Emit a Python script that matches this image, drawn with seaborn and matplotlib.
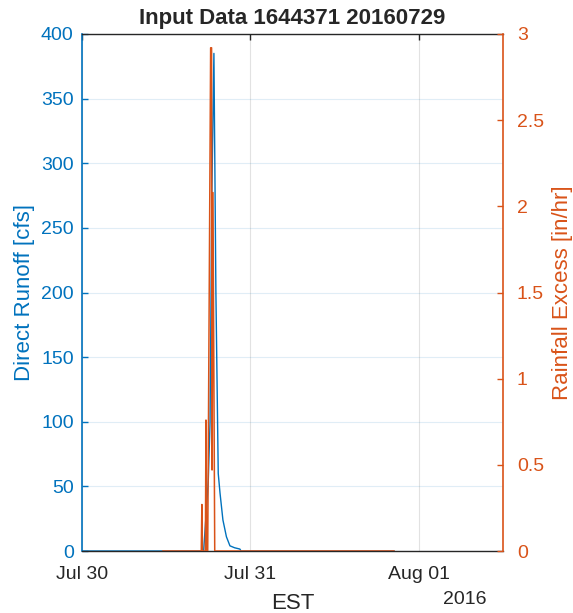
import matplotlib
matplotlib.use("Agg")
import matplotlib.pyplot as plt
import matplotlib.dates as mdates
import seaborn as sns
import pandas as pd

# direct runoff hydrograph (cfs)
runoff_times = ["2016-07-30 00:00", "2016-07-30 17:20", "2016-07-30 17:50", "2016-07-30 18:00",
                "2016-07-30 18:15", "2016-07-30 18:30", "2016-07-30 18:48", "2016-07-30 19:05",
                "2016-07-30 19:25", "2016-07-30 19:40", "2016-07-30 20:05", "2016-07-30 20:35",
                "2016-07-30 21:05", "2016-07-30 21:45", "2016-07-30 22:30", "2016-07-30 22:40",
                "2016-07-31 20:30"]
runoff_cfs = [0, 0, 40, 55, 100, 275, 385, 200, 60, 45, 24, 11, 4, 2.5, 1.5, 0, 0]

# rainfall excess (in/hr)
rain_times = ["2016-07-30 11:30", "2016-07-30 17:00", "2016-07-30 17:05", "2016-07-30 17:10",
              "2016-07-30 17:35", "2016-07-30 17:40", "2016-07-30 17:45", "2016-07-30 17:55",
              "2016-07-30 18:20", "2016-07-30 18:28", "2016-07-30 18:32", "2016-07-30 18:40",
              "2016-07-30 18:55", "2016-07-31 20:30"]
rain_inhr = [0, 0, 0.27, 0, 0, 0.76, 0, 0, 2.92, 2.92, 0.47, 2.08, 0, 0]

runoff = pd.DataFrame({"time": pd.to_datetime(runoff_times), "runoff": runoff_cfs})
rain = pd.DataFrame({"time": pd.to_datetime(rain_times), "rain": rain_inhr})

blue = "#0072BD"
orange = "#D95319"
dark = "#262626"

sns.set_style("white")
plt.rcParams["font.family"] = ["Liberation Sans", "DejaVu Sans"]

fig = plt.figure(figsize=(5.73, 6.13), dpi=100)
ax = fig.add_axes([82 / 573, 62 / 613, 421 / 573, 517 / 613])
ax2 = ax.twinx()

sns.lineplot(data=runoff, x="time", y="runoff", ax=ax, color=blue, lw=1.0)
sns.lineplot(data=rain, x="time", y="rain", ax=ax2, color=orange, lw=1.1)

ax.set_xlim(pd.Timestamp("2016-07-30 00:00"), pd.Timestamp("2016-08-01 12:00"))
ax.set_ylim(0, 400)
ax.set_yticks(range(0, 401, 50))
ax2.set_ylim(0, 3)
ax2.set_yticks([0, 0.5, 1, 1.5, 2, 2.5, 3])
ax2.set_yticklabels(["0", "0.5", "1", "1.5", "2", "2.5", "3"])

ax.xaxis.set_major_locator(mdates.DayLocator())
ax.xaxis.set_major_formatter(mdates.DateFormatter("%b %d"))
ax.set_xticklabels(["Jul 30", "Jul 31", "Aug 01"])

# grid
ax.grid(True, axis="y", color=blue, alpha=0.12, lw=0.8)
ax.grid(True, axis="x", color="#262626", alpha=0.13, lw=0.8)
ax2.grid(False)

# spines
for s in ["top", "bottom"]:
    ax.spines[s].set_color(dark)
    ax.spines[s].set_linewidth(1.0)
    ax2.spines[s].set_visible(False)
ax.spines["left"].set_color(blue)
ax.spines["left"].set_linewidth(1.2)
ax.spines["right"].set_visible(False)
ax2.spines["left"].set_visible(False)
ax2.spines["right"].set_color(orange)
ax2.spines["right"].set_linewidth(1.2)

ax.tick_params(axis="y", direction="in", length=4, width=1, colors=blue,
               labelsize=14, pad=6)
ax.tick_params(axis="x", direction="in", length=4, width=1, color=dark,
               labelcolor=dark, labelsize=14, pad=11, top=True)
ax2.tick_params(axis="y", direction="in", length=4, width=1, colors=orange,
                labelsize=14, pad=10)

ax.set_ylabel("Direct Runoff [cfs]", color=blue, fontsize=16, labelpad=4)
ax2.set_ylabel("Rainfall Excess [in/hr]", color=orange, fontsize=16, labelpad=6)
ax.set_xlabel("EST", color=dark, fontsize=16, labelpad=7)
ax.set_title("Input Data 1644371 20160729", fontsize=16, fontweight="bold", pad=7)
fig.text(486 / 573, 1 - 599 / 613, "2016", ha="right", va="center",
         fontsize=14, color=dark)

fig.savefig("out.png", dpi=100)
